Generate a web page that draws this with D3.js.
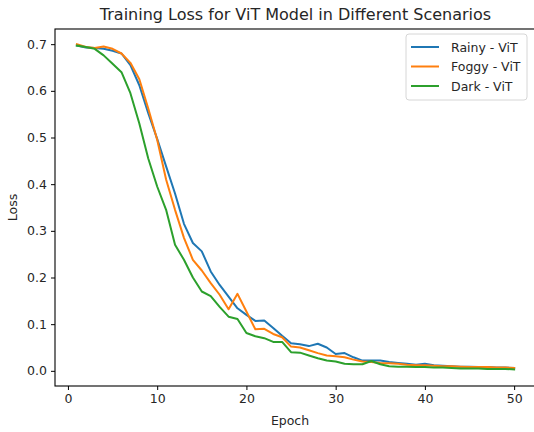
<!DOCTYPE html>
<html><head><meta charset="utf-8">
<script src="https://cdn.jsdelivr.net/npm/d3@7"></script>
<style>body{margin:0;background:#fff}svg{display:block}text{font-family:"DejaVu Sans",sans-serif;fill:#262626}</style>
</head><body><svg id="c" width="534" height="432"></svg>
<script>
const epochs = d3.range(1, 51);
const rainy = [0.697,0.693,0.692,0.690,0.686,0.680,0.655,0.612,0.552,0.497,0.438,0.380,0.315,0.274,0.256,0.213,0.184,0.159,0.134,0.120,0.107,0.108,0.092,0.075,0.059,0.057,0.053,0.058,0.050,0.036,0.038,0.029,0.022,0.022,0.022,0.019,0.017,0.015,0.013,0.015,0.012,0.011,0.010,0.009,0.009,0.008,0.008,0.007,0.007,0.006];
const foggy = [0.700,0.694,0.692,0.695,0.690,0.680,0.660,0.625,0.562,0.495,0.410,0.345,0.285,0.238,0.215,0.188,0.163,0.132,0.165,0.127,0.089,0.090,0.079,0.072,0.052,0.050,0.044,0.038,0.033,0.031,0.029,0.024,0.020,0.019,0.017,0.016,0.015,0.013,0.012,0.012,0.011,0.010,0.010,0.009,0.008,0.008,0.008,0.007,0.007,0.006];
const dark  = [0.697,0.694,0.690,0.676,0.658,0.640,0.595,0.530,0.455,0.395,0.345,0.270,0.238,0.200,0.170,0.160,0.137,0.116,0.111,0.081,0.074,0.070,0.062,0.062,0.040,0.039,0.033,0.027,0.022,0.020,0.015,0.014,0.014,0.021,0.014,0.010,0.009,0.009,0.008,0.008,0.007,0.007,0.006,0.005,0.005,0.005,0.004,0.004,0.004,0.003];
const seriesNames = ["Rainy - ViT","Foggy - ViT","Dark - ViT"];
const colors = ["#1f77b4","#ff7f0e","#2ca02c"];
const xTicks = [0,10,20,30,40,50];
const yTicks = [0.0,0.1,0.2,0.3,0.4,0.5,0.6,0.7];
const title = "Training Loss for ViT Model in Different Scenarios";

const svg = d3.select("#c");
const L = 55, R = 536, T = 29, B = 386;
const x = d3.scaleLinear().domain([-1.45, 52.45]).range([L, R]);
const y = d3.scaleLinear().domain([-0.0325, 0.7325]).range([B, T]);

const series = [rainy, foggy, dark];
const line = d3.line().x((d,i)=>x(epochs[i])).y(d=>y(d));
series.forEach((s,k)=>{
  svg.append("path").datum(s).attr("d", line).attr("fill","none")
    .attr("stroke", colors[k]).attr("stroke-width", 2).attr("stroke-linejoin","round").attr("stroke-linecap","square");
});

svg.append("rect").attr("x",L).attr("y",T).attr("width",R-L).attr("height",B-T)
  .attr("fill","none").attr("stroke","#000").attr("stroke-width",1.1);

const xa = svg.append("g").attr("transform",`translate(0,${B})`)
  .call(d3.axisBottom(x).tickValues(xTicks).tickSize(4).tickPadding(4).tickFormat(d3.format("d")));
const ya = svg.append("g").attr("transform",`translate(${L},0)`)
  .call(d3.axisLeft(y).tickValues(yTicks).tickSize(4).tickPadding(4).tickFormat(d3.format(".1f")));
[xa,ya].forEach(a=>{
  a.select(".domain").remove();
  a.selectAll("line").attr("stroke","#000").attr("stroke-width",1);
  a.selectAll("text").attr("font-size",12.5).attr("font-family","DejaVu Sans").attr("fill","#262626");
});

svg.append("text").attr("x",(L+R)/2).attr("y",20).attr("text-anchor","middle")
  .attr("font-size",16).text(title);
svg.append("text").attr("y",425).attr("text-anchor","middle")
  .attr("font-size",12.5).text("Epoch").attr("x", x(25) - 1);
svg.append("text").attr("transform",`translate(17,${(T+B)/2}) rotate(-90)`).attr("text-anchor","middle")
  .attr("font-size",12.5).text("Loss");

const lg = svg.append("g");
lg.append("rect").attr("x",406).attr("y",34).attr("width",121).attr("height",66).attr("rx",3)
  .attr("fill","#fff").attr("fill-opacity",0.8).attr("stroke","#d6d6d6");
seriesNames.forEach((n,k)=>{
  const yy = 47 + k*19.5;
  lg.append("line").attr("x1",411).attr("x2",439).attr("y1",yy).attr("y2",yy)
    .attr("stroke",colors[k]).attr("stroke-width",2);
  lg.append("text").attr("x",451).attr("y",yy+4.5).attr("font-size",12.5).text(n);
});
</script></body></html>
